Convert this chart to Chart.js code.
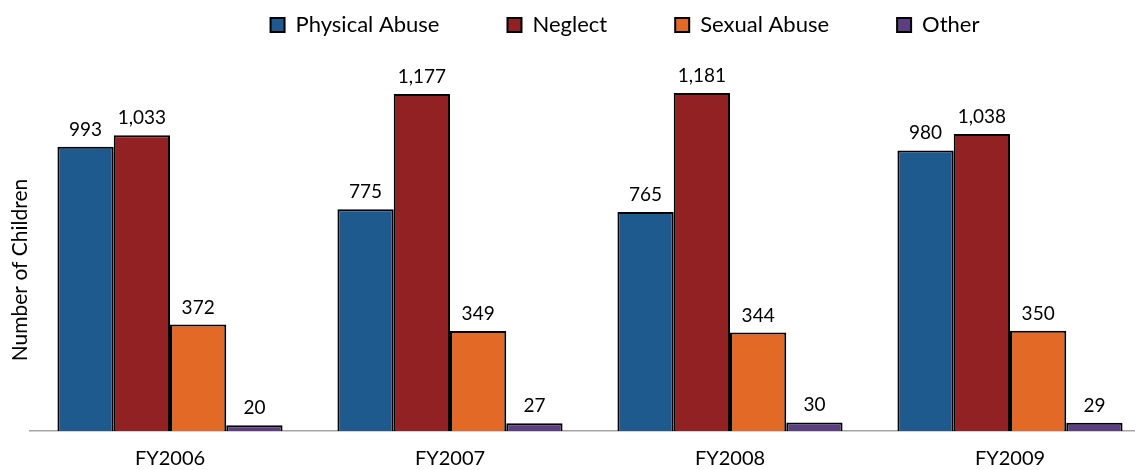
<!DOCTYPE html>
<html><head><meta charset="utf-8">
<script src="https://cdn.jsdelivr.net/npm/chart.js@4.4.0/dist/chart.umd.min.js"></script>
<style>html,body{margin:0;padding:0;background:#fff;overflow:hidden;}#wrap{width:1150px;height:470px;position:relative;}</style>
</head><body><div id="wrap"><canvas id="c"></canvas></div>
<script>
const categories = ['FY2006','FY2007','FY2008','FY2009'];
const physicalAbuse = [993, 775, 765, 980];
const neglect = [1033, 1177, 1181, 1038];
const sexualAbuse = [372, 349, 344, 350];
const other = [20, 27, 30, 29];
const seriesNames = ['Physical Abuse','Neglect','Sexual Abuse','Other'];
const seriesColors = ['#1F5A8E','#922124','#E36A26','#5B3F80'];
const yAxisTitle = 'Number of Children';
const FONT = 'Lato';

const labelPlugin = {
  id: 'labels',
  afterLayout(chart) {
    // shift legend horizontally to match the reference placement
    const lg = chart.legend;
    lg.left += 35; lg.right += 35;
    if (lg.legendHitBoxes) lg.legendHitBoxes.forEach(b => { b.left += 35; });
  },
  afterDatasetsDraw(chart) {
    const ctx = chart.ctx;
    ctx.save();
    ctx.font = '19px ' + FONT;
    ctx.fillStyle = '#000';
    ctx.textAlign = 'center';
    ctx.textBaseline = 'alphabetic';
    chart.data.datasets.forEach((ds, i) => {
      chart.getDatasetMeta(i).data.forEach((bar, j) => {
        ctx.fillText(ds.data[j].toLocaleString('en-US'), bar.x, bar.y - 11);
      });
    });
    // y axis title
    ctx.font = '21px ' + FONT;
    ctx.translate(27, 270);
    ctx.rotate(-Math.PI/2);
    ctx.textBaseline = 'alphabetic';
    ctx.fillText(yAxisTitle, 0, 0);
    ctx.restore();
  }
};

new Chart(document.getElementById('c'), {
  type: 'bar',
  data: {
    labels: categories,
    datasets: [physicalAbuse, neglect, sexualAbuse, other].map((d, i) => ({
      label: seriesNames[i], data: d, backgroundColor: seriesColors[i],
      borderColor: '#000', borderWidth: 2, borderSkipped: 'bottom',
      categoryPercentage: 0.804, barPercentage: 1.0
    }))
  },
  options: {
    responsive: true, maintainAspectRatio: false, animation: false,
    layout: { padding: { left: 30, right: 0, top: -54, bottom: -17 } },
    plugins: {
      legend: { position: 'top', labels: { font: { family: FONT, size: 22 }, color: '#000', boxWidth: 14, boxHeight: 14, padding: 68 } },
      tooltip: { enabled: false }
    },
    scales: {
      x: {
        grid: { display: false, drawTicks: false },
        border: { display: true, color: '#A6A6A6', width: 1.5 },
        ticks: { font: { family: FONT, size: 20 }, color: '#000', padding: 16 }
      },
      y: { display: false, min: 0, max: 1345 }
    }
  },
  plugins: [labelPlugin]
});
</script></body></html>
